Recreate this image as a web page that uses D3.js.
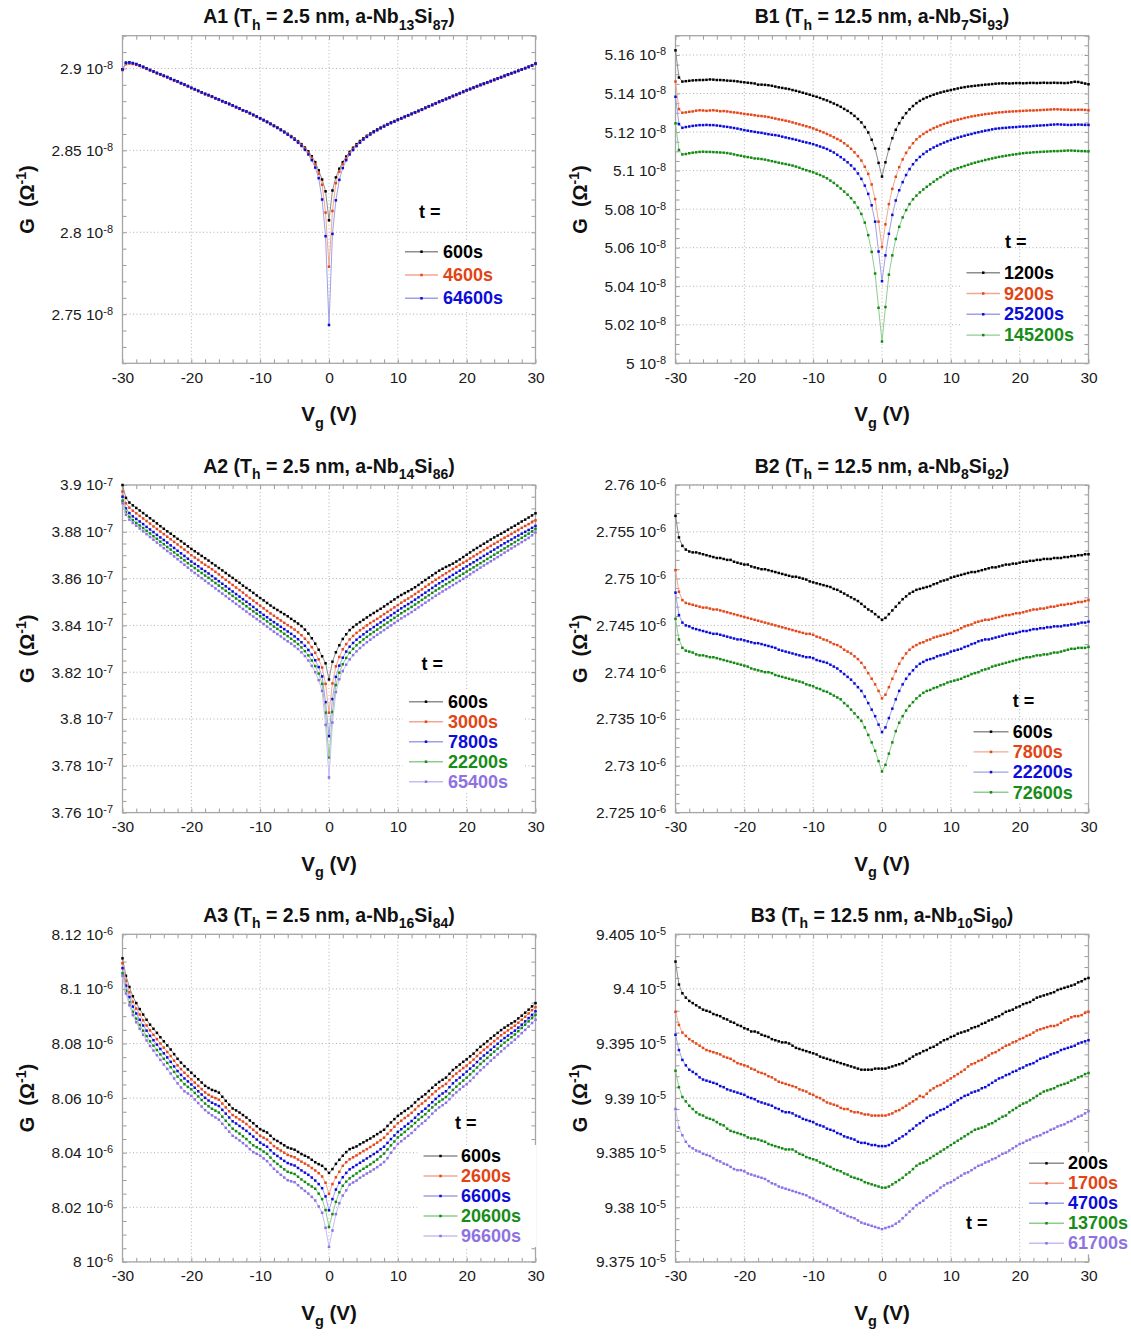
<!DOCTYPE html>
<html>
<head>
<meta charset="utf-8">
<script src="https://cdn.jsdelivr.net/npm/d3@7"></script>
<style>
  body { margin: 0; background: #fff; }
  svg text { font-family: "Liberation Sans", Arial, sans-serif; }
</style>
</head>
<body>
<svg id="chart" width="1131" height="1342"></svg>
<script>
// gate voltage sweep, -30 V .. 30 V in 0.5 V steps
var vg = d3.range(-30, 30.5, 0.5);
var xTicks = [-30, -20, -10, 0, 10, 20, 30];

// ---------- A1 (G in 1e-8 S) ----------
var A1_yDomain = [2.72, 2.92];
var A1_yTicks = [2.75, 2.8, 2.85, 2.9];
var A1_labels = ["600s", "4600s", "64600s"];
var A1_600s = [
  2.8995, 2.9035, 2.9037, 2.9033, 2.9027, 2.9019, 2.9010, 2.9001, 2.8991, 2.8982, 2.8973,
  2.8965, 2.8956, 2.8948, 2.8938, 2.8929, 2.8921, 2.8911, 2.8902, 2.8893, 2.8882, 2.8874,
  2.8864, 2.8855, 2.8845, 2.8838, 2.8829, 2.8819, 2.8811, 2.8801, 2.8793, 2.8784, 2.8775,
  2.8765, 2.8756, 2.8744, 2.8738, 2.8728, 2.8717, 2.8707, 2.8696, 2.8686, 2.8675, 2.8663,
  2.8651, 2.8640, 2.8627, 2.8614, 2.8601, 2.8587, 2.8572, 2.8556, 2.8538, 2.8517, 2.8494,
  2.8464, 2.8428, 2.8378, 2.8322, 2.8250, 2.8073, 2.8255, 2.8335, 2.8388, 2.8428, 2.8462,
  2.8491, 2.8516, 2.8538, 2.8557, 2.8574, 2.8589, 2.8603, 2.8616, 2.8628, 2.8639, 2.8650,
  2.8660, 2.8670, 2.8679, 2.8688, 2.8697, 2.8706, 2.8715, 2.8724, 2.8733, 2.8742, 2.8751,
  2.8761, 2.8770, 2.8779, 2.8788, 2.8798, 2.8806, 2.8815, 2.8823, 2.8833, 2.8841, 2.8850,
  2.8859, 2.8868, 2.8876, 2.8884, 2.8893, 2.8901, 2.8908, 2.8916, 2.8924, 2.8932, 2.8940,
  2.8948, 2.8956, 2.8964, 2.8972, 2.8979, 2.8987, 2.8995, 2.9003, 2.9011, 2.9020, 2.9030
];
var A1_4600s = [
  2.8990, 2.9026, 2.9030, 2.9027, 2.9022, 2.9015, 2.9006, 2.8997, 2.8988, 2.8979, 2.8970,
  2.8962, 2.8953, 2.8945, 2.8935, 2.8926, 2.8918, 2.8908, 2.8899, 2.8890, 2.8879, 2.8871,
  2.8861, 2.8852, 2.8842, 2.8835, 2.8826, 2.8816, 2.8808, 2.8798, 2.8790, 2.8781, 2.8772,
  2.8762, 2.8753, 2.8742, 2.8735, 2.8725, 2.8714, 2.8704, 2.8693, 2.8683, 2.8672, 2.8660,
  2.8648, 2.8637, 2.8624, 2.8611, 2.8598, 2.8584, 2.8568, 2.8552, 2.8533, 2.8511, 2.8486,
  2.8454, 2.8414, 2.8358, 2.8290, 2.8120, 2.7790, 2.8130, 2.8300, 2.8370, 2.8415, 2.8452,
  2.8483, 2.8509, 2.8531, 2.8551, 2.8569, 2.8585, 2.8599, 2.8612, 2.8624, 2.8635, 2.8646,
  2.8656, 2.8666, 2.8675, 2.8684, 2.8693, 2.8702, 2.8711, 2.8720, 2.8729, 2.8738, 2.8747,
  2.8757, 2.8766, 2.8775, 2.8784, 2.8794, 2.8802, 2.8811, 2.8819, 2.8829, 2.8837, 2.8846,
  2.8855, 2.8864, 2.8872, 2.8880, 2.8889, 2.8897, 2.8904, 2.8912, 2.8920, 2.8928, 2.8936,
  2.8944, 2.8952, 2.8960, 2.8968, 2.8976, 2.8984, 2.8992, 2.9000, 2.9008, 2.9017, 2.9027
];
var A1_64600s = [
  2.8994, 2.9034, 2.9036, 2.9032, 2.9026, 2.9018, 2.9009, 2.9000, 2.8990, 2.8981, 2.8972,
  2.8964, 2.8955, 2.8947, 2.8937, 2.8928, 2.8920, 2.8910, 2.8901, 2.8892, 2.8881, 2.8873,
  2.8863, 2.8854, 2.8844, 2.8837, 2.8828, 2.8818, 2.8810, 2.8800, 2.8792, 2.8783, 2.8774,
  2.8764, 2.8755, 2.8745, 2.8737, 2.8727, 2.8716, 2.8706, 2.8695, 2.8684, 2.8673, 2.8661,
  2.8649, 2.8637, 2.8624, 2.8610, 2.8596, 2.8581, 2.8565, 2.8547, 2.8527, 2.8503, 2.8475,
  2.8440, 2.8395, 2.8330, 2.8200, 2.7976, 2.7434, 2.7990, 2.8195, 2.8320, 2.8392, 2.8440,
  2.8475, 2.8502, 2.8526, 2.8547, 2.8566, 2.8582, 2.8597, 2.8611, 2.8623, 2.8635, 2.8646,
  2.8657, 2.8667, 2.8676, 2.8686, 2.8695, 2.8704, 2.8713, 2.8722, 2.8731, 2.8740, 2.8749,
  2.8759, 2.8768, 2.8777, 2.8786, 2.8796, 2.8804, 2.8813, 2.8821, 2.8831, 2.8839, 2.8848,
  2.8857, 2.8866, 2.8874, 2.8882, 2.8891, 2.8899, 2.8906, 2.8914, 2.8922, 2.8930, 2.8938,
  2.8946, 2.8954, 2.8962, 2.8970, 2.8977, 2.8985, 2.8993, 2.9001, 2.9009, 2.9018, 2.9029
];

// ---------- B1 (G in 1e-8 S) ----------
var B1_yDomain = [5.0, 5.17];
var B1_yTicks = [5.0, 5.02, 5.04, 5.06, 5.08, 5.1, 5.12, 5.14, 5.16];
var B1_labels = ["1200s", "9200s", "25200s", "145200s"];
var B1_1200s = [
  5.1624, 5.1483, 5.1462, 5.1464, 5.1466, 5.1468, 5.1469, 5.1470, 5.1470, 5.1471, 5.1473,
  5.1472, 5.1470, 5.1470, 5.1469, 5.1467, 5.1466, 5.1465, 5.1463, 5.1460, 5.1458, 5.1456,
  5.1454, 5.1452, 5.1446, 5.1446, 5.1445, 5.1443, 5.1440, 5.1436, 5.1432, 5.1429, 5.1426,
  5.1423, 5.1418, 5.1414, 5.1409, 5.1404, 5.1399, 5.1394, 5.1388, 5.1383, 5.1377, 5.1370,
  5.1364, 5.1356, 5.1348, 5.1340, 5.1331, 5.1320, 5.1310, 5.1298, 5.1284, 5.1268, 5.1250,
  5.1226, 5.1198, 5.1160, 5.1115, 5.1040, 5.0969, 5.1043, 5.1112, 5.1168, 5.1212, 5.1246,
  5.1274, 5.1298, 5.1318, 5.1335, 5.1350, 5.1362, 5.1372, 5.1380, 5.1387, 5.1394, 5.1400,
  5.1405, 5.1410, 5.1414, 5.1418, 5.1422, 5.1426, 5.1430, 5.1433, 5.1436, 5.1438, 5.1440,
  5.1442, 5.1444, 5.1446, 5.1447, 5.1449, 5.1451, 5.1452, 5.1453, 5.1453, 5.1452, 5.1453,
  5.1454, 5.1454, 5.1453, 5.1454, 5.1455, 5.1455, 5.1454, 5.1455, 5.1456, 5.1455, 5.1455,
  5.1456, 5.1455, 5.1455, 5.1454, 5.1455, 5.1458, 5.1461, 5.1460, 5.1456, 5.1452, 5.1448
];
var B1_9200s = [
  5.1462, 5.1319, 5.1300, 5.1302, 5.1305, 5.1307, 5.1311, 5.1313, 5.1312, 5.1310, 5.1312,
  5.1313, 5.1311, 5.1308, 5.1309, 5.1307, 5.1304, 5.1302, 5.1300, 5.1297, 5.1294, 5.1292,
  5.1290, 5.1287, 5.1284, 5.1283, 5.1281, 5.1278, 5.1274, 5.1270, 5.1266, 5.1263, 5.1259,
  5.1255, 5.1250, 5.1245, 5.1240, 5.1235, 5.1230, 5.1225, 5.1219, 5.1212, 5.1205, 5.1198,
  5.1190, 5.1182, 5.1173, 5.1164, 5.1155, 5.1142, 5.1129, 5.1113, 5.1095, 5.1075, 5.1052,
  5.1020, 5.0983, 5.0928, 5.0852, 5.0735, 5.0603, 5.0721, 5.0826, 5.0905, 5.0968, 5.1018,
  5.1058, 5.1092, 5.1119, 5.1142, 5.1162, 5.1177, 5.1190, 5.1201, 5.1211, 5.1220, 5.1228,
  5.1235, 5.1242, 5.1248, 5.1254, 5.1259, 5.1264, 5.1268, 5.1273, 5.1277, 5.1281, 5.1284,
  5.1287, 5.1290, 5.1293, 5.1295, 5.1297, 5.1300, 5.1302, 5.1303, 5.1305, 5.1306, 5.1307,
  5.1308, 5.1309, 5.1310, 5.1311, 5.1312, 5.1312, 5.1313, 5.1314, 5.1315, 5.1316, 5.1317,
  5.1318, 5.1318, 5.1317, 5.1316, 5.1316, 5.1315, 5.1315, 5.1316, 5.1316, 5.1315, 5.1313
];
var B1_25200s = [
  5.1383, 5.1241, 5.1222, 5.1226, 5.1229, 5.1232, 5.1234, 5.1236, 5.1236, 5.1237, 5.1236,
  5.1236, 5.1234, 5.1232, 5.1229, 5.1227, 5.1224, 5.1221, 5.1218, 5.1214, 5.1210, 5.1207,
  5.1204, 5.1201, 5.1198, 5.1196, 5.1192, 5.1189, 5.1186, 5.1184, 5.1181, 5.1176, 5.1172,
  5.1168, 5.1164, 5.1160, 5.1155, 5.1150, 5.1146, 5.1142, 5.1137, 5.1131, 5.1125, 5.1119,
  5.1112, 5.1103, 5.1094, 5.1082, 5.1070, 5.1057, 5.1043, 5.1027, 5.1009, 5.0985, 5.0957,
  5.0922, 5.0879, 5.0820, 5.0735, 5.0580, 5.0426, 5.0560, 5.0672, 5.0770, 5.0845, 5.0898,
  5.0940, 5.0977, 5.1008, 5.1033, 5.1054, 5.1071, 5.1086, 5.1099, 5.1110, 5.1120, 5.1129,
  5.1137, 5.1145, 5.1152, 5.1159, 5.1165, 5.1171, 5.1176, 5.1181, 5.1186, 5.1190, 5.1195,
  5.1199, 5.1203, 5.1207, 5.1210, 5.1214, 5.1217, 5.1219, 5.1221, 5.1222, 5.1224, 5.1225,
  5.1226, 5.1228, 5.1229, 5.1229, 5.1230, 5.1232, 5.1233, 5.1234, 5.1235, 5.1236, 5.1238,
  5.1239, 5.1240, 5.1239, 5.1238, 5.1237, 5.1237, 5.1238, 5.1239, 5.1238, 5.1237, 5.1237
];
var B1_145200s = [
  5.1245, 5.1107, 5.1084, 5.1086, 5.1090, 5.1093, 5.1095, 5.1097, 5.1098, 5.1097, 5.1097,
  5.1096, 5.1095, 5.1094, 5.1093, 5.1091, 5.1088, 5.1084, 5.1080, 5.1077, 5.1073, 5.1070,
  5.1067, 5.1063, 5.1062, 5.1060, 5.1057, 5.1053, 5.1049, 5.1045, 5.1041, 5.1037, 5.1034,
  5.1030, 5.1026, 5.1021, 5.1015, 5.1008, 5.1002, 5.0997, 5.0991, 5.0984, 5.0977, 5.0969,
  5.0960, 5.0948, 5.0936, 5.0922, 5.0907, 5.0891, 5.0875, 5.0857, 5.0835, 5.0808, 5.0775,
  5.0730, 5.0665, 5.0578, 5.0466, 5.0288, 5.0113, 5.0292, 5.0460, 5.0560, 5.0645, 5.0708,
  5.0757, 5.0795, 5.0826, 5.0851, 5.0870, 5.0887, 5.0902, 5.0916, 5.0929, 5.0942, 5.0955,
  5.0966, 5.0977, 5.0989, 5.0999, 5.1006, 5.1012, 5.1018, 5.1024, 5.1030, 5.1036, 5.1041,
  5.1046, 5.1050, 5.1055, 5.1059, 5.1063, 5.1067, 5.1071, 5.1074, 5.1077, 5.1080, 5.1083,
  5.1085, 5.1088, 5.1090, 5.1092, 5.1093, 5.1095, 5.1096, 5.1097, 5.1098, 5.1099, 5.1100,
  5.1101, 5.1101, 5.1102, 5.1103, 5.1104, 5.1104, 5.1103, 5.1102, 5.1101, 5.1101, 5.1100
];

// ---------- A2 (G in 1e-7 S) ----------
var A2_yDomain = [3.76, 3.9];
var A2_yTicks = [3.76, 3.78, 3.8, 3.82, 3.84, 3.86, 3.88, 3.9];
var A2_labels = ["600s", "3000s", "7800s", "22200s", "65400s"];
var A2_600s = [
  3.9000, 3.8945, 3.8925, 3.8913, 3.8902, 3.8891, 3.8880, 3.8869, 3.8858, 3.8847, 3.8836,
  3.8824, 3.8813, 3.8802, 3.8792, 3.8781, 3.8770, 3.8760, 3.8749, 3.8738, 3.8727, 3.8717,
  3.8707, 3.8697, 3.8687, 3.8677, 3.8666, 3.8656, 3.8645, 3.8635, 3.8624, 3.8613, 3.8603,
  3.8592, 3.8582, 3.8570, 3.8560, 3.8550, 3.8539, 3.8528, 3.8517, 3.8507, 3.8496, 3.8485,
  3.8475, 3.8466, 3.8457, 3.8448, 3.8439, 3.8428, 3.8418, 3.8408, 3.8397, 3.8382, 3.8365,
  3.8345, 3.8322, 3.8296, 3.8268, 3.8238, 3.8169, 3.8245, 3.8285, 3.8315, 3.8342, 3.8362,
  3.8380, 3.8393, 3.8404, 3.8414, 3.8424, 3.8434, 3.8444, 3.8453, 3.8462, 3.8471, 3.8481,
  3.8491, 3.8501, 3.8511, 3.8521, 3.8530, 3.8538, 3.8546, 3.8554, 3.8563, 3.8573, 3.8584,
  3.8594, 3.8604, 3.8614, 3.8624, 3.8634, 3.8642, 3.8650, 3.8657, 3.8664, 3.8673, 3.8682,
  3.8692, 3.8702, 3.8712, 3.8722, 3.8731, 3.8740, 3.8749, 3.8758, 3.8767, 3.8776, 3.8784,
  3.8792, 3.8800, 3.8809, 3.8818, 3.8826, 3.8835, 3.8844, 3.8852, 3.8861, 3.8870, 3.8879
];
var A2_3000s = [
  3.8972, 3.8922, 3.8903, 3.8890, 3.8879, 3.8868, 3.8857, 3.8846, 3.8835, 3.8823, 3.8812,
  3.8801, 3.8790, 3.8779, 3.8768, 3.8757, 3.8746, 3.8735, 3.8724, 3.8713, 3.8700, 3.8690,
  3.8680, 3.8669, 3.8659, 3.8650, 3.8640, 3.8629, 3.8618, 3.8606, 3.8595, 3.8584, 3.8573,
  3.8562, 3.8551, 3.8540, 3.8528, 3.8517, 3.8506, 3.8495, 3.8484, 3.8473, 3.8462, 3.8451,
  3.8441, 3.8431, 3.8421, 3.8411, 3.8401, 3.8392, 3.8382, 3.8371, 3.8358, 3.8343, 3.8327,
  3.8307, 3.8283, 3.8255, 3.8220, 3.8150, 3.8027, 3.8152, 3.8225, 3.8265, 3.8298, 3.8320,
  3.8340, 3.8355, 3.8368, 3.8379, 3.8389, 3.8400, 3.8410, 3.8419, 3.8428, 3.8438, 3.8448,
  3.8458, 3.8467, 3.8477, 3.8487, 3.8497, 3.8506, 3.8515, 3.8524, 3.8534, 3.8544, 3.8554,
  3.8565, 3.8575, 3.8585, 3.8595, 3.8604, 3.8614, 3.8623, 3.8632, 3.8641, 3.8650, 3.8659,
  3.8668, 3.8676, 3.8686, 3.8695, 3.8704, 3.8713, 3.8722, 3.8731, 3.8740, 3.8749, 3.8757,
  3.8766, 3.8775, 3.8783, 3.8791, 3.8800, 3.8808, 3.8817, 3.8825, 3.8833, 3.8841, 3.8849
];
var A2_7800s = [
  3.8950, 3.8900, 3.8880, 3.8866, 3.8855, 3.8844, 3.8833, 3.8821, 3.8810, 3.8799, 3.8787,
  3.8776, 3.8765, 3.8754, 3.8742, 3.8731, 3.8719, 3.8708, 3.8697, 3.8685, 3.8673, 3.8663,
  3.8653, 3.8642, 3.8632, 3.8622, 3.8611, 3.8600, 3.8589, 3.8578, 3.8567, 3.8556, 3.8545,
  3.8534, 3.8523, 3.8512, 3.8501, 3.8490, 3.8479, 3.8467, 3.8456, 3.8445, 3.8435, 3.8424,
  3.8414, 3.8404, 3.8394, 3.8384, 3.8374, 3.8364, 3.8353, 3.8341, 3.8328, 3.8313, 3.8295,
  3.8275, 3.8251, 3.8222, 3.8182, 3.8072, 3.7927, 3.8085, 3.8180, 3.8228, 3.8262, 3.8288,
  3.8309, 3.8325, 3.8339, 3.8351, 3.8362, 3.8373, 3.8383, 3.8393, 3.8403, 3.8413, 3.8423,
  3.8433, 3.8443, 3.8453, 3.8463, 3.8473, 3.8482, 3.8491, 3.8500, 3.8510, 3.8520, 3.8530,
  3.8540, 3.8550, 3.8560, 3.8570, 3.8580, 3.8589, 3.8598, 3.8607, 3.8616, 3.8625, 3.8634,
  3.8643, 3.8652, 3.8661, 3.8670, 3.8679, 3.8688, 3.8697, 3.8706, 3.8715, 3.8724, 3.8733,
  3.8742, 3.8751, 3.8759, 3.8767, 3.8776, 3.8784, 3.8792, 3.8800, 3.8808, 3.8817, 3.8825
];
var A2_22200s = [
  3.8933, 3.8885, 3.8864, 3.8850, 3.8838, 3.8827, 3.8816, 3.8804, 3.8793, 3.8781, 3.8770,
  3.8758, 3.8747, 3.8735, 3.8724, 3.8712, 3.8701, 3.8689, 3.8678, 3.8666, 3.8655, 3.8645,
  3.8634, 3.8624, 3.8613, 3.8603, 3.8592, 3.8581, 3.8570, 3.8559, 3.8548, 3.8537, 3.8526,
  3.8515, 3.8504, 3.8493, 3.8482, 3.8471, 3.8460, 3.8450, 3.8439, 3.8428, 3.8417, 3.8406,
  3.8395, 3.8385, 3.8375, 3.8364, 3.8354, 3.8343, 3.8332, 3.8320, 3.8306, 3.8290, 3.8272,
  3.8250, 3.8226, 3.8194, 3.8150, 3.8027, 3.7835, 3.8030, 3.8145, 3.8198, 3.8234, 3.8261,
  3.8283, 3.8300, 3.8315, 3.8328, 3.8340, 3.8351, 3.8362, 3.8372, 3.8382, 3.8392, 3.8402,
  3.8412, 3.8422, 3.8432, 3.8442, 3.8452, 3.8461, 3.8470, 3.8479, 3.8489, 3.8499, 3.8509,
  3.8519, 3.8529, 3.8539, 3.8549, 3.8558, 3.8567, 3.8576, 3.8585, 3.8594, 3.8603, 3.8612,
  3.8621, 3.8630, 3.8639, 3.8648, 3.8657, 3.8666, 3.8675, 3.8684, 3.8693, 3.8702, 3.8711,
  3.8720, 3.8729, 3.8738, 3.8747, 3.8756, 3.8765, 3.8774, 3.8783, 3.8792, 3.8802, 3.8812
];
var A2_65400s = [
  3.8922, 3.8873, 3.8852, 3.8838, 3.8826, 3.8814, 3.8802, 3.8790, 3.8778, 3.8766, 3.8754,
  3.8742, 3.8730, 3.8718, 3.8707, 3.8695, 3.8683, 3.8671, 3.8659, 3.8647, 3.8635, 3.8624,
  3.8613, 3.8602, 3.8591, 3.8580, 3.8569, 3.8558, 3.8547, 3.8536, 3.8525, 3.8514, 3.8503,
  3.8492, 3.8481, 3.8470, 3.8459, 3.8448, 3.8438, 3.8427, 3.8417, 3.8406, 3.8395, 3.8384,
  3.8373, 3.8363, 3.8353, 3.8342, 3.8332, 3.8322, 3.8311, 3.8299, 3.8285, 3.8269, 3.8250,
  3.8227, 3.8200, 3.8166, 3.8120, 3.7975, 3.7750, 3.7985, 3.8115, 3.8170, 3.8205, 3.8232,
  3.8255, 3.8273, 3.8289, 3.8303, 3.8316, 3.8328, 3.8339, 3.8350, 3.8360, 3.8370, 3.8380,
  3.8390, 3.8400, 3.8410, 3.8420, 3.8430, 3.8439, 3.8448, 3.8457, 3.8467, 3.8477, 3.8487,
  3.8497, 3.8507, 3.8517, 3.8527, 3.8536, 3.8545, 3.8554, 3.8563, 3.8572, 3.8581, 3.8590,
  3.8599, 3.8608, 3.8618, 3.8628, 3.8637, 3.8647, 3.8656, 3.8665, 3.8674, 3.8683, 3.8692,
  3.8701, 3.8711, 3.8720, 3.8729, 3.8738, 3.8747, 3.8756, 3.8765, 3.8774, 3.8785, 3.8797
];

// ---------- B2 (G in 1e-6 S) ----------
var B2_yDomain = [2.725, 2.76];
var B2_yTicks = [2.725, 2.73, 2.735, 2.74, 2.745, 2.75, 2.755, 2.76];
var B2_labels = ["600s", "7800s", "22200s", "72600s"];
var B2_600s = [
  2.7567, 2.7544, 2.7535, 2.7531, 2.7529, 2.7528, 2.7528, 2.7527, 2.7526, 2.7525, 2.7524,
  2.7523, 2.7522, 2.7522, 2.7521, 2.7520, 2.7520, 2.7518, 2.7517, 2.7516, 2.7515, 2.7515,
  2.7513, 2.7512, 2.7511, 2.7510, 2.7510, 2.7509, 2.7508, 2.7507, 2.7506, 2.7505, 2.7504,
  2.7503, 2.7502, 2.7502, 2.7501, 2.7500, 2.7499, 2.7497, 2.7496, 2.7495, 2.7494, 2.7493,
  2.7492, 2.7491, 2.7489, 2.7488, 2.7486, 2.7484, 2.7482, 2.7480, 2.7478, 2.7476, 2.7473,
  2.7470, 2.7467, 2.7465, 2.7462, 2.7459, 2.7456, 2.7458, 2.7462, 2.7466, 2.7470, 2.7474,
  2.7478, 2.7481, 2.7484, 2.7486, 2.7488, 2.7489, 2.7490, 2.7491, 2.7492, 2.7494, 2.7495,
  2.7497, 2.7498, 2.7499, 2.7501, 2.7502, 2.7503, 2.7504, 2.7505, 2.7506, 2.7507, 2.7507,
  2.7508, 2.7509, 2.7510, 2.7511, 2.7512, 2.7512, 2.7513, 2.7514, 2.7515, 2.7515, 2.7516,
  2.7516, 2.7517, 2.7518, 2.7518, 2.7519, 2.7519, 2.7520, 2.7520, 2.7521, 2.7521, 2.7521,
  2.7522, 2.7522, 2.7522, 2.7523, 2.7523, 2.7524, 2.7524, 2.7525, 2.7525, 2.7526, 2.7526
];
var B2_7800s = [
  2.7509, 2.7486, 2.7477, 2.7474, 2.7473, 2.7472, 2.7471, 2.7470, 2.7469, 2.7469, 2.7468,
  2.7467, 2.7467, 2.7466, 2.7465, 2.7464, 2.7463, 2.7462, 2.7461, 2.7460, 2.7459, 2.7458,
  2.7457, 2.7456, 2.7455, 2.7454, 2.7453, 2.7452, 2.7451, 2.7450, 2.7449, 2.7448, 2.7447,
  2.7446, 2.7445, 2.7444, 2.7443, 2.7442, 2.7441, 2.7441, 2.7440, 2.7438, 2.7437, 2.7435,
  2.7434, 2.7432, 2.7430, 2.7429, 2.7427, 2.7424, 2.7422, 2.7420, 2.7417, 2.7414, 2.7410,
  2.7405, 2.7399, 2.7393, 2.7387, 2.7380, 2.7372, 2.7376, 2.7384, 2.7393, 2.7401, 2.7409,
  2.7415, 2.7420, 2.7424, 2.7427, 2.7429, 2.7431, 2.7432, 2.7434, 2.7435, 2.7437, 2.7438,
  2.7439, 2.7440, 2.7441, 2.7442, 2.7444, 2.7445, 2.7447, 2.7449, 2.7450, 2.7451, 2.7453,
  2.7454, 2.7455, 2.7456, 2.7456, 2.7457, 2.7458, 2.7459, 2.7460, 2.7461, 2.7461, 2.7462,
  2.7463, 2.7463, 2.7464, 2.7465, 2.7466, 2.7467, 2.7467, 2.7468, 2.7468, 2.7469, 2.7470,
  2.7470, 2.7471, 2.7472, 2.7472, 2.7473, 2.7473, 2.7474, 2.7475, 2.7475, 2.7476, 2.7477
];
var B2_22200s = [
  2.7485, 2.7461, 2.7453, 2.7450, 2.7449, 2.7447, 2.7446, 2.7445, 2.7444, 2.7443, 2.7442,
  2.7441, 2.7441, 2.7440, 2.7439, 2.7438, 2.7437, 2.7436, 2.7435, 2.7435, 2.7434, 2.7433,
  2.7432, 2.7431, 2.7431, 2.7430, 2.7429, 2.7428, 2.7427, 2.7426, 2.7424, 2.7423, 2.7422,
  2.7421, 2.7420, 2.7419, 2.7418, 2.7417, 2.7416, 2.7416, 2.7415, 2.7413, 2.7412, 2.7411,
  2.7410, 2.7408, 2.7406, 2.7404, 2.7401, 2.7398, 2.7395, 2.7392, 2.7388, 2.7384, 2.7380,
  2.7374, 2.7367, 2.7360, 2.7353, 2.7344, 2.7336, 2.7341, 2.7351, 2.7361, 2.7371, 2.7380,
  2.7387, 2.7393, 2.7398, 2.7402, 2.7406, 2.7409, 2.7411, 2.7413, 2.7414, 2.7415, 2.7417,
  2.7418, 2.7419, 2.7420, 2.7422, 2.7423, 2.7424, 2.7425, 2.7427, 2.7428, 2.7430, 2.7431,
  2.7433, 2.7434, 2.7435, 2.7435, 2.7436, 2.7437, 2.7438, 2.7439, 2.7440, 2.7441, 2.7441,
  2.7442, 2.7443, 2.7444, 2.7444, 2.7445, 2.7446, 2.7446, 2.7447, 2.7447, 2.7448, 2.7448,
  2.7449, 2.7449, 2.7449, 2.7450, 2.7450, 2.7451, 2.7451, 2.7452, 2.7453, 2.7453, 2.7454
];
var B2_72600s = [
  2.7457, 2.7435, 2.7426, 2.7423, 2.7422, 2.7421, 2.7419, 2.7418, 2.7418, 2.7417, 2.7416,
  2.7416, 2.7415, 2.7414, 2.7413, 2.7412, 2.7411, 2.7410, 2.7409, 2.7408, 2.7407, 2.7406,
  2.7404, 2.7403, 2.7402, 2.7401, 2.7400, 2.7400, 2.7399, 2.7397, 2.7396, 2.7395, 2.7394,
  2.7393, 2.7392, 2.7391, 2.7390, 2.7389, 2.7387, 2.7386, 2.7385, 2.7383, 2.7382, 2.7380,
  2.7379, 2.7377, 2.7375, 2.7373, 2.7371, 2.7367, 2.7364, 2.7360, 2.7356, 2.7352, 2.7348,
  2.7341, 2.7333, 2.7325, 2.7316, 2.7305, 2.7294, 2.7301, 2.7313, 2.7325, 2.7337, 2.7346,
  2.7353, 2.7359, 2.7364, 2.7368, 2.7372, 2.7375, 2.7378, 2.7380, 2.7381, 2.7383, 2.7384,
  2.7386, 2.7387, 2.7389, 2.7390, 2.7391, 2.7392, 2.7393, 2.7395, 2.7396, 2.7398, 2.7399,
  2.7400, 2.7402, 2.7403, 2.7404, 2.7406, 2.7407, 2.7408, 2.7409, 2.7410, 2.7411, 2.7412,
  2.7413, 2.7414, 2.7415, 2.7416, 2.7416, 2.7417, 2.7418, 2.7418, 2.7419, 2.7419, 2.7420,
  2.7421, 2.7421, 2.7422, 2.7423, 2.7424, 2.7425, 2.7425, 2.7426, 2.7426, 2.7426, 2.7427
];

// ---------- A3 (G in 1e-6 S) ----------
var A3_yDomain = [8.0, 8.12];
var A3_yTicks = [8.0, 8.02, 8.04, 8.06, 8.08, 8.1, 8.12];
var A3_labels = ["600s", "2600s", "6600s", "20600s", "96600s"];
var A3_600s = [
  8.1112, 8.1048, 8.1007, 8.0973, 8.0948, 8.0926, 8.0906, 8.0887, 8.0869, 8.0854, 8.0839,
  8.0823, 8.0808, 8.0793, 8.0778, 8.0761, 8.0744, 8.0730, 8.0717, 8.0705, 8.0693, 8.0681,
  8.0669, 8.0657, 8.0645, 8.0637, 8.0630, 8.0626, 8.0620, 8.0605, 8.0590, 8.0576, 8.0562,
  8.0555, 8.0547, 8.0538, 8.0529, 8.0518, 8.0508, 8.0497, 8.0486, 8.0480, 8.0474, 8.0462,
  8.0450, 8.0443, 8.0435, 8.0427, 8.0419, 8.0415, 8.0411, 8.0403, 8.0395, 8.0389, 8.0383,
  8.0374, 8.0365, 8.0358, 8.0352, 8.0340, 8.0326, 8.0340, 8.0359, 8.0374, 8.0389, 8.0402,
  8.0413, 8.0418, 8.0423, 8.0431, 8.0438, 8.0445, 8.0452, 8.0460, 8.0468, 8.0476, 8.0484,
  8.0498, 8.0511, 8.0523, 8.0535, 8.0544, 8.0553, 8.0562, 8.0571, 8.0584, 8.0596, 8.0605,
  8.0614, 8.0626, 8.0638, 8.0649, 8.0659, 8.0667, 8.0675, 8.0689, 8.0703, 8.0713, 8.0723,
  8.0733, 8.0742, 8.0753, 8.0763, 8.0776, 8.0788, 8.0798, 8.0808, 8.0819, 8.0829, 8.0839,
  8.0849, 8.0858, 8.0866, 8.0874, 8.0881, 8.0892, 8.0902, 8.0913, 8.0924, 8.0936, 8.0948
];
var A3_2600s = [
  8.1094, 8.1030, 8.0988, 8.0953, 8.0928, 8.0906, 8.0885, 8.0866, 8.0848, 8.0832, 8.0816,
  8.0800, 8.0785, 8.0769, 8.0754, 8.0737, 8.0720, 8.0706, 8.0693, 8.0681, 8.0669, 8.0657,
  8.0645, 8.0633, 8.0621, 8.0612, 8.0605, 8.0600, 8.0594, 8.0580, 8.0566, 8.0552, 8.0538,
  8.0530, 8.0522, 8.0514, 8.0505, 8.0494, 8.0484, 8.0473, 8.0462, 8.0455, 8.0448, 8.0436,
  8.0424, 8.0416, 8.0408, 8.0400, 8.0392, 8.0387, 8.0383, 8.0375, 8.0367, 8.0360, 8.0353,
  8.0344, 8.0335, 8.0325, 8.0313, 8.0290, 8.0249, 8.0285, 8.0310, 8.0330, 8.0352, 8.0365,
  8.0376, 8.0383, 8.0390, 8.0398, 8.0406, 8.0413, 8.0421, 8.0429, 8.0437, 8.0446, 8.0455,
  8.0469, 8.0482, 8.0495, 8.0508, 8.0517, 8.0527, 8.0536, 8.0546, 8.0558, 8.0571, 8.0580,
  8.0590, 8.0602, 8.0614, 8.0625, 8.0636, 8.0644, 8.0652, 8.0666, 8.0680, 8.0690, 8.0700,
  8.0710, 8.0719, 8.0730, 8.0741, 8.0754, 8.0766, 8.0777, 8.0787, 8.0798, 8.0809, 8.0819,
  8.0830, 8.0839, 8.0848, 8.0857, 8.0865, 8.0876, 8.0887, 8.0898, 8.0910, 8.0922, 8.0933
];
var A3_6600s = [
  8.1076, 8.1012, 8.0970, 8.0935, 8.0910, 8.0887, 8.0866, 8.0847, 8.0828, 8.0812, 8.0796,
  8.0780, 8.0764, 8.0749, 8.0733, 8.0716, 8.0699, 8.0685, 8.0672, 8.0661, 8.0650, 8.0638,
  8.0625, 8.0613, 8.0601, 8.0591, 8.0583, 8.0577, 8.0571, 8.0557, 8.0543, 8.0529, 8.0515,
  8.0507, 8.0498, 8.0489, 8.0480, 8.0469, 8.0459, 8.0448, 8.0437, 8.0429, 8.0422, 8.0409,
  8.0397, 8.0388, 8.0379, 8.0370, 8.0362, 8.0357, 8.0353, 8.0344, 8.0335, 8.0327, 8.0319,
  8.0309, 8.0298, 8.0285, 8.0270, 8.0240, 8.0189, 8.0230, 8.0265, 8.0290, 8.0310, 8.0326,
  8.0339, 8.0347, 8.0355, 8.0363, 8.0371, 8.0379, 8.0387, 8.0395, 8.0403, 8.0413, 8.0422,
  8.0436, 8.0450, 8.0463, 8.0476, 8.0486, 8.0496, 8.0506, 8.0516, 8.0528, 8.0541, 8.0551,
  8.0561, 8.0573, 8.0585, 8.0597, 8.0608, 8.0617, 8.0625, 8.0640, 8.0654, 8.0665, 8.0675,
  8.0686, 8.0697, 8.0708, 8.0719, 8.0732, 8.0745, 8.0756, 8.0766, 8.0777, 8.0788, 8.0799,
  8.0810, 8.0820, 8.0829, 8.0838, 8.0847, 8.0858, 8.0869, 8.0881, 8.0893, 8.0905, 8.0918
];
var A3_20600s = [
  8.1057, 8.0993, 8.0951, 8.0916, 8.0891, 8.0868, 8.0847, 8.0827, 8.0808, 8.0792, 8.0776,
  8.0760, 8.0744, 8.0729, 8.0713, 8.0696, 8.0679, 8.0665, 8.0651, 8.0641, 8.0632, 8.0619,
  8.0606, 8.0593, 8.0580, 8.0570, 8.0561, 8.0554, 8.0547, 8.0532, 8.0517, 8.0502, 8.0488,
  8.0479, 8.0470, 8.0460, 8.0450, 8.0438, 8.0427, 8.0420, 8.0413, 8.0404, 8.0396, 8.0382,
  8.0369, 8.0359, 8.0349, 8.0339, 8.0330, 8.0326, 8.0322, 8.0312, 8.0302, 8.0293, 8.0284,
  8.0276, 8.0268, 8.0250, 8.0230, 8.0190, 8.0128, 8.0175, 8.0220, 8.0255, 8.0279, 8.0294,
  8.0306, 8.0315, 8.0324, 8.0333, 8.0341, 8.0349, 8.0357, 8.0366, 8.0375, 8.0386, 8.0397,
  8.0412, 8.0427, 8.0441, 8.0456, 8.0466, 8.0476, 8.0487, 8.0497, 8.0509, 8.0521, 8.0531,
  8.0541, 8.0554, 8.0566, 8.0577, 8.0587, 8.0595, 8.0604, 8.0617, 8.0630, 8.0642, 8.0653,
  8.0664, 8.0675, 8.0687, 8.0699, 8.0712, 8.0725, 8.0736, 8.0747, 8.0759, 8.0770, 8.0781,
  8.0792, 8.0803, 8.0813, 8.0823, 8.0833, 8.0845, 8.0857, 8.0869, 8.0881, 8.0893, 8.0905
];
var A3_96600s = [
  8.1048, 8.0983, 8.0940, 8.0904, 8.0878, 8.0854, 8.0832, 8.0811, 8.0791, 8.0774, 8.0757,
  8.0740, 8.0723, 8.0707, 8.0690, 8.0672, 8.0654, 8.0639, 8.0625, 8.0617, 8.0608, 8.0595,
  8.0582, 8.0569, 8.0556, 8.0546, 8.0537, 8.0529, 8.0521, 8.0506, 8.0491, 8.0477, 8.0462,
  8.0454, 8.0445, 8.0435, 8.0425, 8.0413, 8.0402, 8.0396, 8.0389, 8.0379, 8.0369, 8.0355,
  8.0341, 8.0330, 8.0319, 8.0309, 8.0299, 8.0295, 8.0292, 8.0281, 8.0270, 8.0260, 8.0250,
  8.0238, 8.0225, 8.0203, 8.0180, 8.0125, 8.0055, 8.0115, 8.0175, 8.0215, 8.0243, 8.0262,
  8.0283, 8.0291, 8.0298, 8.0308, 8.0316, 8.0324, 8.0331, 8.0339, 8.0347, 8.0356, 8.0366,
  8.0380, 8.0400, 8.0416, 8.0432, 8.0442, 8.0452, 8.0462, 8.0472, 8.0484, 8.0497, 8.0507,
  8.0517, 8.0530, 8.0543, 8.0555, 8.0566, 8.0574, 8.0583, 8.0596, 8.0610, 8.0621, 8.0632,
  8.0642, 8.0651, 8.0663, 8.0675, 8.0689, 8.0702, 8.0713, 8.0725, 8.0737, 8.0748, 8.0760,
  8.0771, 8.0782, 8.0793, 8.0803, 8.0814, 8.0826, 8.0838, 8.0850, 8.0862, 8.0875, 8.0887
];

// ---------- B3 (G in 1e-5 S) ----------
var B3_yDomain = [9.375, 9.405];
var B3_yTicks = [9.375, 9.38, 9.385, 9.39, 9.395, 9.4, 9.405];
var B3_labels = ["200s", "1700s", "4700s", "13700s", "61700s"];
var B3_200s = [
  9.4025, 9.4004, 9.3996, 9.3992, 9.3989, 9.3987, 9.3985, 9.3983, 9.3981, 9.3980, 9.3979,
  9.3977, 9.3976, 9.3975, 9.3973, 9.3972, 9.3970, 9.3969, 9.3967, 9.3966, 9.3964, 9.3963,
  9.3961, 9.3961, 9.3960, 9.3958, 9.3957, 9.3956, 9.3954, 9.3953, 9.3952, 9.3951, 9.3951,
  9.3950, 9.3948, 9.3946, 9.3945, 9.3944, 9.3943, 9.3942, 9.3941, 9.3940, 9.3938, 9.3937,
  9.3936, 9.3935, 9.3934, 9.3933, 9.3932, 9.3931, 9.3930, 9.3929, 9.3928, 9.3927, 9.3926,
  9.3926, 9.3926, 9.3926, 9.3927, 9.3927, 9.3927, 9.3927, 9.3928, 9.3929, 9.3930, 9.3931,
  9.3932, 9.3934, 9.3936, 9.3938, 9.3940, 9.3941, 9.3943, 9.3944, 9.3946, 9.3947, 9.3949,
  9.3951, 9.3953, 9.3954, 9.3956, 9.3957, 9.3959, 9.3960, 9.3961, 9.3962, 9.3964, 9.3965,
  9.3966, 9.3968, 9.3969, 9.3971, 9.3972, 9.3974, 9.3975, 9.3977, 9.3979, 9.3980, 9.3981,
  9.3983, 9.3984, 9.3986, 9.3987, 9.3988, 9.3990, 9.3992, 9.3993, 9.3994, 9.3995, 9.3996,
  9.3997, 9.3999, 9.4000, 9.4001, 9.4002, 9.4003, 9.4004, 9.4006, 9.4007, 9.4009, 9.4010
];
var B3_1700s = [
  9.3979, 9.3967, 9.3960, 9.3957, 9.3954, 9.3952, 9.3950, 9.3948, 9.3946, 9.3944, 9.3943,
  9.3942, 9.3941, 9.3940, 9.3938, 9.3937, 9.3936, 9.3934, 9.3932, 9.3931, 9.3930, 9.3929,
  9.3927, 9.3926, 9.3924, 9.3923, 9.3922, 9.3920, 9.3919, 9.3917, 9.3915, 9.3914, 9.3913,
  9.3912, 9.3911, 9.3910, 9.3908, 9.3907, 9.3906, 9.3904, 9.3903, 9.3901, 9.3900, 9.3898,
  9.3896, 9.3895, 9.3894, 9.3893, 9.3891, 9.3890, 9.3890, 9.3888, 9.3887, 9.3887, 9.3886,
  9.3885, 9.3885, 9.3884, 9.3884, 9.3884, 9.3884, 9.3884, 9.3885, 9.3886, 9.3888, 9.3889,
  9.3891, 9.3893, 9.3895, 9.3897, 9.3899, 9.3902, 9.3901, 9.3904, 9.3907, 9.3909, 9.3911,
  9.3912, 9.3914, 9.3916, 9.3918, 9.3920, 9.3922, 9.3924, 9.3926, 9.3929, 9.3931, 9.3932,
  9.3934, 9.3935, 9.3937, 9.3939, 9.3941, 9.3942, 9.3944, 9.3946, 9.3948, 9.3949, 9.3951,
  9.3952, 9.3954, 9.3955, 9.3957, 9.3958, 9.3960, 9.3962, 9.3963, 9.3964, 9.3965, 9.3966,
  9.3966, 9.3967, 9.3969, 9.3971, 9.3972, 9.3974, 9.3975, 9.3975, 9.3976, 9.3978, 9.3979
];
var B3_4700s = [
  9.3958, 9.3944, 9.3935, 9.3930, 9.3926, 9.3924, 9.3922, 9.3919, 9.3917, 9.3916, 9.3915,
  9.3914, 9.3913, 9.3911, 9.3910, 9.3908, 9.3907, 9.3906, 9.3905, 9.3904, 9.3903, 9.3901,
  9.3900, 9.3899, 9.3897, 9.3896, 9.3895, 9.3894, 9.3893, 9.3891, 9.3890, 9.3888, 9.3887,
  9.3887, 9.3886, 9.3884, 9.3883, 9.3881, 9.3880, 9.3879, 9.3878, 9.3876, 9.3875, 9.3874,
  9.3872, 9.3871, 9.3870, 9.3868, 9.3867, 9.3865, 9.3864, 9.3863, 9.3862, 9.3860, 9.3859,
  9.3859, 9.3858, 9.3857, 9.3857, 9.3856, 9.3856, 9.3856, 9.3857, 9.3859, 9.3861, 9.3863,
  9.3865, 9.3867, 9.3870, 9.3872, 9.3875, 9.3877, 9.3879, 9.3882, 9.3884, 9.3885, 9.3887,
  9.3889, 9.3890, 9.3892, 9.3894, 9.3896, 9.3898, 9.3900, 9.3902, 9.3903, 9.3905, 9.3906,
  9.3907, 9.3909, 9.3910, 9.3912, 9.3914, 9.3916, 9.3918, 9.3919, 9.3921, 9.3922, 9.3924,
  9.3925, 9.3927, 9.3928, 9.3930, 9.3931, 9.3932, 9.3934, 9.3936, 9.3937, 9.3938, 9.3940,
  9.3941, 9.3942, 9.3944, 9.3945, 9.3946, 9.3947, 9.3948, 9.3950, 9.3951, 9.3952, 9.3953
];
var B3_13700s = [
  9.3925, 9.3910, 9.3901, 9.3897, 9.3893, 9.3890, 9.3887, 9.3885, 9.3884, 9.3882, 9.3881,
  9.3880, 9.3878, 9.3876, 9.3875, 9.3872, 9.3870, 9.3869, 9.3868, 9.3867, 9.3866, 9.3864,
  9.3863, 9.3863, 9.3862, 9.3861, 9.3860, 9.3858, 9.3857, 9.3856, 9.3855, 9.3854, 9.3853,
  9.3853, 9.3853, 9.3851, 9.3849, 9.3848, 9.3846, 9.3845, 9.3844, 9.3843, 9.3841, 9.3840,
  9.3838, 9.3837, 9.3835, 9.3834, 9.3833, 9.3831, 9.3830, 9.3828, 9.3827, 9.3826, 9.3825,
  9.3823, 9.3822, 9.3821, 9.3820, 9.3819, 9.3818, 9.3818, 9.3819, 9.3821, 9.3823, 9.3825,
  9.3827, 9.3830, 9.3832, 9.3835, 9.3838, 9.3840, 9.3841, 9.3843, 9.3845, 9.3847, 9.3849,
  9.3851, 9.3853, 9.3855, 9.3857, 9.3859, 9.3861, 9.3863, 9.3865, 9.3867, 9.3869, 9.3871,
  9.3872, 9.3873, 9.3874, 9.3876, 9.3877, 9.3879, 9.3881, 9.3883, 9.3884, 9.3887, 9.3889,
  9.3891, 9.3893, 9.3895, 9.3896, 9.3898, 9.3900, 9.3902, 9.3904, 9.3906, 9.3907, 9.3908,
  9.3909, 9.3911, 9.3912, 9.3913, 9.3914, 9.3916, 9.3917, 9.3919, 9.3920, 9.3922, 9.3923
];
var B3_61700s = [
  9.3890, 9.3873, 9.3866, 9.3860, 9.3856, 9.3854, 9.3852, 9.3851, 9.3849, 9.3848, 9.3847,
  9.3845, 9.3843, 9.3842, 9.3840, 9.3839, 9.3837, 9.3835, 9.3834, 9.3834, 9.3833, 9.3831,
  9.3830, 9.3829, 9.3828, 9.3827, 9.3826, 9.3824, 9.3822, 9.3821, 9.3819, 9.3818, 9.3817,
  9.3816, 9.3815, 9.3814, 9.3813, 9.3812, 9.3811, 9.3809, 9.3808, 9.3806, 9.3805, 9.3803,
  9.3802, 9.3800, 9.3799, 9.3797, 9.3795, 9.3794, 9.3792, 9.3791, 9.3790, 9.3788, 9.3786,
  9.3785, 9.3784, 9.3783, 9.3782, 9.3781, 9.3780, 9.3781, 9.3782, 9.3783, 9.3785, 9.3787,
  9.3790, 9.3793, 9.3796, 9.3799, 9.3802, 9.3804, 9.3806, 9.3809, 9.3811, 9.3813, 9.3815,
  9.3818, 9.3820, 9.3822, 9.3823, 9.3825, 9.3827, 9.3829, 9.3831, 9.3832, 9.3834, 9.3836,
  9.3838, 9.3839, 9.3841, 9.3842, 9.3844, 9.3845, 9.3847, 9.3849, 9.3850, 9.3852, 9.3854,
  9.3856, 9.3858, 9.3859, 9.3861, 9.3862, 9.3864, 9.3865, 9.3866, 9.3868, 9.3869, 9.3871,
  9.3872, 9.3874, 9.3875, 9.3876, 9.3878, 9.3879, 9.3881, 9.3883, 9.3884, 9.3886, 9.3888
];

// ---------- layout ----------
var plotW = 413, plotH = 327.6;
var colLeft = [122.5, 675.5];
var rowTop = [35.7, 485, 934.3];

var palette = [
  { mark: "#000000", line: "#8e8e8e", text: "#000000" },
  { mark: "#e5461a", line: "#f2a890", text: "#e24414" },
  { mark: "#0b0bdc", line: "#a0a0e6", text: "#0d0dd8" },
  { mark: "#148a14", line: "#90cc90", text: "#178c17" },
  { mark: "#8c70e6", line: "#c8bcf4", text: "#8e72e2" }
];

var panels = [
  { name: "A1", col: 0, row: 0, th: "2.5", nb: "13", si: "87", exp: "-8",
    domain: A1_yDomain, ticks: A1_yTicks, minor: 0.01,
    series: [A1_600s, A1_4600s, A1_64600s], labels: A1_labels,
    legend: { tx: 296.5, ty: 176.3, x1: 282.5, x2: 315.5, lx: 320.5, y0: 216, dy: 23.3 } },
  { name: "B1", col: 1, row: 0, th: "12.5", nb: "7", si: "93", exp: "-8",
    domain: B1_yDomain, ticks: B1_yTicks, minor: 0.005,
    series: [B1_1200s, B1_9200s, B1_25200s, B1_145200s], labels: B1_labels,
    legend: { tx: 329.5, ty: 206, x1: 291, x2: 324.5, lx: 328.5, y0: 237, dy: 20.8 } },
  { name: "A2", col: 0, row: 1, th: "2.5", nb: "14", si: "86", exp: "-7",
    domain: A2_yDomain, ticks: A2_yTicks, minor: 0.005,
    series: [A2_600s, A2_3000s, A2_7800s, A2_22200s, A2_65400s], labels: A2_labels,
    legend: { tx: 299, ty: 178.3, x1: 286.5, x2: 320.5, lx: 325.5, y0: 216.7, dy: 20 } },
  { name: "B2", col: 1, row: 1, th: "12.5", nb: "8", si: "92", exp: "-6",
    domain: B2_yDomain, ticks: B2_yTicks, minor: 0.001,
    series: [B2_600s, B2_7800s, B2_22200s, B2_72600s], labels: B2_labels,
    legend: { tx: 337.3, ty: 215.7, x1: 298, x2: 333, lx: 337.3, y0: 246.7, dy: 20.2 } },
  { name: "A3", col: 0, row: 2, th: "2.5", nb: "16", si: "84", exp: "-6",
    domain: A3_yDomain, ticks: A3_yTicks, minor: 0.005,
    series: [A3_600s, A3_2600s, A3_6600s, A3_20600s, A3_96600s], labels: A3_labels,
    legend: { tx: 332.5, ty: 188.4, x1: 301, x2: 335, lx: 338.5, y0: 221.7, dy: 20 } },
  { name: "B3", col: 1, row: 2, th: "12.5", nb: "10", si: "90", exp: "-5",
    domain: B3_yDomain, ticks: B3_yTicks, minor: 0.001,
    series: [B3_200s, B3_1700s, B3_4700s, B3_13700s, B3_61700s], labels: B3_labels,
    legend: { tx: 290.5, ty: 289, x1: 353.5, x2: 388.5, lx: 392.5, y0: 229, dy: 20 } }
];

panels.forEach(function (p) {
  p.series.forEach(function (s, i) {
    if (s.length !== vg.length) throw new Error(p.name + " series " + i + " has " + s.length + " points");
  });
});

var svg = d3.select("#chart");
svg.append("rect").attr("width", 1131).attr("height", 1342).attr("fill", "#fff");

var tickColor = "#9a9a9a";
var labelColor = "#1a1a1a";

function fmtNum(v) {
  return String(+v.toFixed(4));
}

function minorValues(domain, step) {
  var lo = Math.ceil(domain[0] / step - 1e-6), hi = Math.floor(domain[1] / step + 1e-6);
  return d3.range(lo, hi + 1).map(function (k) { return +(k * step).toFixed(6); });
}

function drawPanel(p) {
  var ox = colLeft[p.col], oy = rowTop[p.row];
  var g = svg.append("g").attr("transform", "translate(" + ox + "," + oy + ")");

  var x = d3.scaleLinear().domain([-30, 30]).range([0, plotW]);
  var y = d3.scaleLinear().domain(p.domain).range([plotH, 0]);

  // dotted grid
  var grid = g.append("g").attr("stroke", "#b0b0b0").attr("stroke-width", 1).attr("stroke-dasharray", "1,2.5");
  grid.selectAll(".gx").data(xTicks.slice(1, -1)).enter().append("line")
    .attr("x1", function (d) { return x(d); }).attr("x2", function (d) { return x(d); })
    .attr("y1", 0).attr("y2", plotH);
  grid.selectAll(".gy").data(p.ticks).enter().append("line")
    .attr("x1", 0).attr("x2", plotW)
    .attr("y1", function (d) { return y(d); }).attr("y2", function (d) { return y(d); });

  // inward ticks on all four sides
  var xMinor = d3.range(-30, 31, 2);
  var yMinor = minorValues(p.domain, p.minor);
  function styleAxis(a) {
    a.select(".domain").remove();
    a.selectAll(".tick line").attr("stroke", tickColor);
  }
  g.append("g").attr("transform", "translate(0," + plotH + ")")
    .call(d3.axisBottom(x).tickValues(xMinor).tickSize(-4).tickFormat("")).call(styleAxis);
  g.append("g").call(d3.axisTop(x).tickValues(xMinor).tickSize(-4).tickFormat("")).call(styleAxis);
  g.append("g").call(d3.axisLeft(y).tickValues(yMinor).tickSize(-4).tickFormat("")).call(styleAxis);
  g.append("g").attr("transform", "translate(" + plotW + ",0)")
    .call(d3.axisRight(y).tickValues(yMinor).tickSize(-4).tickFormat("")).call(styleAxis);

  // frame
  g.append("rect").attr("width", plotW).attr("height", plotH)
    .attr("fill", "none").attr("stroke", "#a6a6a6").attr("stroke-width", 1.3);

  // x tick labels (plain hyphen minus, as in the original)
  var xl = g.append("g").attr("transform", "translate(0," + plotH + ")")
    .call(d3.axisBottom(x).tickValues(xTicks).tickSize(0).tickPadding(8.5).tickFormat(function (d) { return String(d); }));
  xl.select(".domain").remove();
  xl.attr("font-family", null).attr("font-size", 15.5);
  xl.selectAll("text").attr("fill", labelColor);

  // y tick labels  "2.9 10^-8"
  var yl = g.append("g")
    .call(d3.axisLeft(y).tickValues(p.ticks).tickSize(0).tickPadding(9.5).tickFormat(""));
  yl.select(".domain").remove();
  yl.attr("font-family", null).attr("font-size", 15.5);
  yl.selectAll(".tick text").attr("fill", labelColor).each(function (d) {
    var t = d3.select(this);
    t.append("tspan").text(fmtNum(d) + " 10");
    t.append("tspan").attr("dy", "-0.45em").attr("font-size", 11).text(p.exp);
  });

  // series: thin light line + small square markers
  var line = d3.line().x(function (d, i) { return x(vg[i]); }).y(function (d) { return y(d); });
  p.series.forEach(function (s, i) {
    var c = palette[i];
    g.append("path").datum(s).attr("d", line)
      .attr("fill", "none").attr("stroke", c.line).attr("stroke-width", 1);
    g.append("g").selectAll("rect").data(s).enter().append("rect")
      .attr("x", function (d, j) { return x(vg[j]) - 1.25; })
      .attr("y", function (d) { return y(d) - 1.25; })
      .attr("width", 2.5).attr("height", 2.5)
      .attr("fill", c.mark);
  });

  // title
  var title = g.append("text").attr("x", plotW / 2).attr("y", -12.5)
    .attr("text-anchor", "middle").attr("font-weight", "bold").attr("font-size", 19.5).attr("fill", "#111");
  var parts = [[p.name + " (T", 0], ["h", 1], [" = " + p.th + " nm, a-Nb", 0], [p.nb, 1], ["Si", 0], [p.si, 1], [")", 0]];
  var shift = 0;
  parts.forEach(function (pt) {
    var target = pt[1] ? 6.5 : 0;
    var ts = title.append("tspan").attr("dy", target - shift).text(pt[0]);
    if (pt[1]) ts.attr("font-size", 14);
    shift = target;
  });

  // x axis title
  var xt = g.append("text").attr("x", plotW / 2).attr("y", plotH + 58)
    .attr("text-anchor", "middle").attr("font-weight", "bold").attr("font-size", 20.5).attr("fill", "#111");
  xt.append("tspan").text("V");
  xt.append("tspan").attr("dy", 6.5).attr("font-size", 14.5).text("g");
  xt.append("tspan").attr("dy", -6.5).text(" (V)");

  // y axis title
  var yt = g.append("text")
    .attr("transform", "translate(-89," + (plotH / 2) + ") rotate(-90)")
    .attr("text-anchor", "middle").attr("font-weight", "bold").attr("font-size", 20).attr("fill", "#111");
  yt.append("tspan").text("G\u00a0\u00a0(\u03a9");
  yt.append("tspan").attr("dy", -7.5).attr("font-size", 14).text("-1");
  yt.append("tspan").attr("dy", 7.5).text(")");

  // legend
  var L = p.legend;
  var n = p.series.length;
  var lg = g.append("g");
  lg.append("rect")
    .attr("x", L.x1 - 6).attr("y", L.y0 - 11)
    .attr("width", L.lx - L.x1 + 6 + 10.2 * 7 + 4).attr("height", (n - 1) * L.dy + 22)
    .attr("fill", "#fff");
  lg.append("text").attr("x", L.tx).attr("y", L.ty + 6.2)
    .attr("font-weight", "bold").attr("font-size", 18).attr("fill", "#000").text("t =");
  p.labels.forEach(function (lab, i) {
    var c = palette[i];
    var yy = L.y0 + i * L.dy;
    lg.append("line").attr("x1", L.x1).attr("x2", L.x2).attr("y1", yy).attr("y2", yy)
      .attr("stroke", c.line).attr("stroke-width", 1.4);
    lg.append("rect").attr("x", (L.x1 + L.x2) / 2 - 1.25).attr("y", yy - 1.25)
      .attr("width", 2.5).attr("height", 2.5).attr("fill", c.mark);
    lg.append("text").attr("x", L.lx).attr("y", yy + 6.2)
      .attr("font-weight", "bold").attr("font-size", 18).attr("fill", c.text).text(lab);
  });
}

panels.forEach(drawPanel);
</script>
</body>
</html>
